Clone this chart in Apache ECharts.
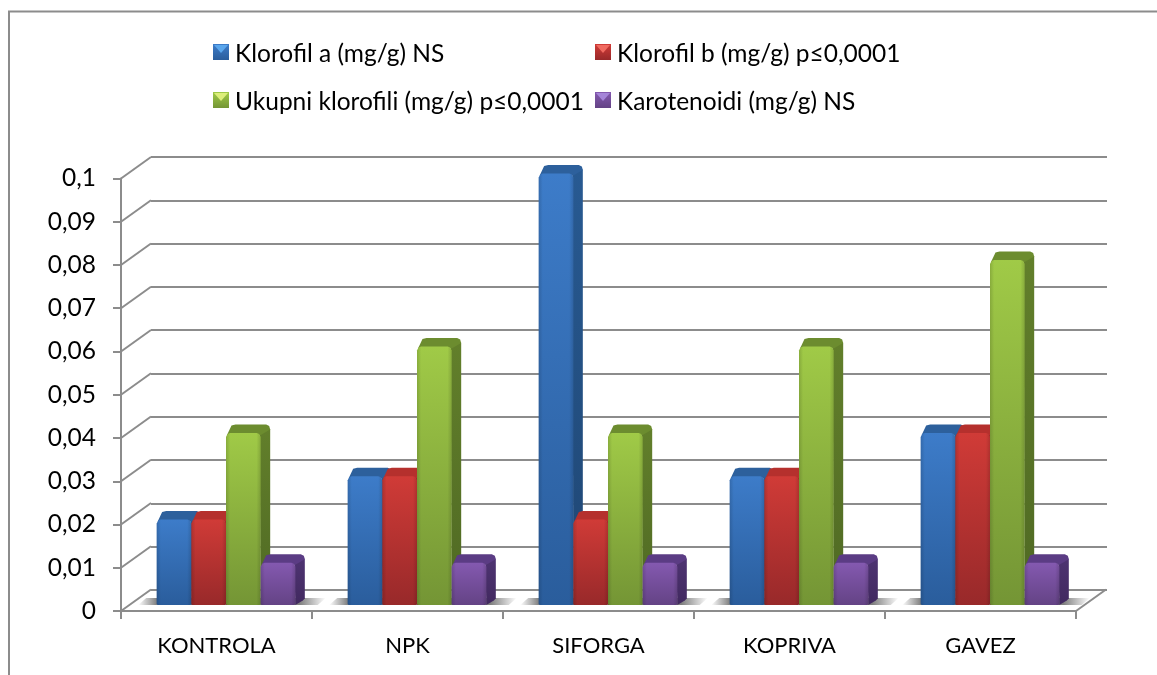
<!DOCTYPE html>
<html>
<head>
<meta charset="utf-8">
<style>html,body{margin:0;padding:0;background:#fff}#chartmain{width:1157px;height:675px}</style>
<script src="https://cdn.jsdelivr.net/npm/echarts@6/dist/echarts.min.js"></script>
</head>
<body>
<div id="chartmain"></div>
<script>
// podaci
var categories = ['KONTROLA', 'NPK', 'SIFORGA', 'KOPRIVA', 'GAVEZ'];
var seriesNames = ['Klorofil a (mg/g) NS', 'Klorofil b (mg/g) p≤0,0001', 'Ukupni klorofili (mg/g) p≤0,0001', 'Karotenoidi (mg/g) NS'];
var klorofilA = [0.02, 0.03, 0.1, 0.03, 0.04];
var klorofilB = [0.02, 0.03, 0.02, 0.03, 0.04];
var ukupni = [0.04, 0.06, 0.04, 0.06, 0.08];
var karotenoidi = [0.01, 0.01, 0.01, 0.01, 0.01];
var yTicks = [0, 0.01, 0.02, 0.03, 0.04, 0.05, 0.06, 0.07, 0.08, 0.09, 0.1];

var FONT = 'Lato';
var LINE = '#8c8c8c';
var WALL_DX = 30, WALL_DY = -21.5;   // stražnji zid
var BAR_DX = 9.5, BAR_DY = -5;       // prednja strana stupca od osi
var SIDE_DX = 9.5, SIDE_DY = -8.5;   // dubina stupca

var colors = [
    {hi: '#3d7cc9', lo: '#2a5d9c', top: '#2d609c', sideHi: '#285a92', sideLo: '#1f4673', iconHi: '#5aa6ec'},
    {hi: '#d03b37', lo: '#98292a', top: '#b5302d', sideHi: '#9a2a28', sideLo: '#7a201f', iconHi: '#f06a60'},
    {hi: '#a0ca47', lo: '#749535', top: '#6c8c2f', sideHi: '#627f2b', sideLo: '#4f6923', iconHi: '#dcee7a'},
    {hi: '#8459b0', lo: '#644385', top: '#5b3c84', sideHi: '#4e3472', sideLo: '#41295f', iconHi: '#a585d8'}
];

function vGrad(a, b) {
    return new echarts.graphic.LinearGradient(0, 0, 0, 1, [{offset: 0, color: a}, {offset: 1, color: b}]);
}

var edgeShade = new echarts.graphic.LinearGradient(0, 0, 1, 0, [
    {offset: 0, color: 'rgba(0,0,0,0.14)'}, {offset: 0.12, color: 'rgba(0,0,0,0)'},
    {offset: 0.88, color: 'rgba(0,0,0,0)'}, {offset: 1, color: 'rgba(0,0,0,0.14)'}
]);

function barRenderer(i) {
    var c = colors[i];
    return function (params, api) {
        var cat = api.value(0);
        var top = api.coord([cat, api.value(1)]);
        var base = api.coord([cat, 0]);
        var w = api.size([1, 0])[0] * 0.1815;
        var x0 = top[0] - 2 * w + i * w + BAR_DX;
        var x1 = x0 + w;
        var yT = top[1] + BAR_DY, yB = base[1] + BAR_DY - 1;
        var r = 4;
        var front = [
            [x0, yT + r], [x0 + 1.5, yT + 1], [x0 + r, yT], [x1 - r, yT], [x1 - 1.5, yT + 1], [x1, yT + r],
            [x1, yB - 1], [x1 - 1, yB], [x0 + 1, yB], [x0, yB - 1]
        ];
        return {
            type: 'group',
            children: [
                {type: 'polygon', shape: {points: [
                    [x1 - 1, yT + 1], [x1 + SIDE_DX - 2, yT + SIDE_DY + 3], [x1 + SIDE_DX, yT + SIDE_DY + 5],
                    [x1 + SIDE_DX, yB + SIDE_DY + 2], [x1 + SIDE_DX - 2, yB + SIDE_DY + 4], [x1, yB]
                ]}, style: {fill: vGrad(c.sideHi, c.sideLo)}},
                {type: 'polygon', shape: {points: [
                    [x0 + 1, yT + 2], [x0 + SIDE_DX - 4, yT + SIDE_DY + 1], [x0 + SIDE_DX, yT + SIDE_DY],
                    [x1 + SIDE_DX - 4, yT + SIDE_DY], [x1 + SIDE_DX - 1, yT + SIDE_DY + 1.5],
                    [x1 + SIDE_DX, yT + SIDE_DY + 5], [x1, yT + 2]
                ]}, style: {fill: c.top}},
                {type: 'polygon', shape: {points: front}, style: {fill: vGrad(c.hi, c.lo)}},
                {type: 'polygon', shape: {points: front}, style: {fill: edgeShade}}
            ]
        };
    };
}

function renderSlant(params, api) {
    var y = api.coord([0, api.value(1)])[1];
    var x = params.coordSys.x;
    return {type: 'line', shape: {x1: x, y1: y, x2: x + WALL_DX, y2: y + WALL_DY},
        style: {stroke: LINE, lineWidth: 2}};
}

function renderFloorEdge(params, api) {
    var y = api.coord([0, 0])[1];
    var x = params.coordSys.x + params.coordSys.width;
    return {type: 'line', shape: {x1: x, y1: y, x2: x + WALL_DX, y2: y + WALL_DY},
        style: {stroke: LINE, lineWidth: 2}};
}

function renderShadow(params, api) {
    var cat = api.value(0);
    var p = api.coord([cat, 0]);
    var w = api.size([1, 0])[0];
    var x0 = p[0] - w * 0.41, x1 = p[0] + w * 0.53;
    return {type: 'polygon', shape: {points: [[x0 + 8, p[1] - 13], [x1 + 8, p[1] - 13], [x1, p[1] - 6], [x0, p[1] - 6]]},
        style: {fill: new echarts.graphic.LinearGradient(0, 0, 1, 0, [
            {offset: 0, color: 'rgba(120,120,120,0)'}, {offset: 0.1, color: 'rgba(120,120,120,0.95)'},
            {offset: 0.86, color: 'rgba(120,120,120,0.95)'}, {offset: 1, color: 'rgba(120,120,120,0)'}
        ])}};
}

function pairs(values) {
    return values.map(function (v, k) { return [k, v]; });
}

var legendPos = [[213, 44], [595, 44], [213, 92], [595, 92]];

var option = {
    animation: false,
    backgroundColor: '#fff',
    textStyle: {fontFamily: FONT},
    legend: seriesNames.map(function (name, i) {
        return {
            data: [name], left: legendPos[i][0], top: legendPos[i][1] - 2.5,
            itemWidth: 16, itemHeight: 16, icon: 'rect', padding: 0,
            itemStyle: {color: vGrad(colors[i].hi, colors[i].lo)},
            formatter: '{t|{name}}',
            textStyle: {fontFamily: FONT, fontSize: 24.5, color: '#000',
                rich: {t: {fontFamily: FONT, fontSize: 24.5, color: '#000', padding: [4, 0, 0, 1]}}},
            selectedMode: false
        };
    }),
    grid: [
        {left: 121, right: 81, top: 178.5, bottom: 64, containLabel: false},
        {left: 151, right: 50, top: 157, bottom: 85, containLabel: false}
    ],
    xAxis: [
        {type: 'category', data: categories, gridIndex: 0,
            axisLine: {show: true, lineStyle: {color: LINE, width: 2}},
            axisTick: {show: true, length: 8, alignWithLabel: false, lineStyle: {color: LINE, width: 2}},
            axisLabel: {color: '#000', fontSize: 22, fontFamily: FONT, margin: 24, interval: 0},
            splitLine: {show: false}},
        {type: 'category', data: categories, gridIndex: 1, show: false}
    ],
    yAxis: [
        {type: 'value', gridIndex: 0, min: 0, max: 0.1, interval: 0.01,
            axisLine: {show: true, lineStyle: {color: LINE, width: 2}},
            axisTick: {show: true, length: 8, lineStyle: {color: LINE, width: 2}},
            axisLabel: {color: '#000', fontSize: 24.5, fontFamily: FONT, margin: 25,
                formatter: function (v) { return String(v).replace('.', ','); }},
            splitLine: {show: false}},
        {type: 'value', gridIndex: 1, min: 0, max: 0.1, interval: 0.01,
            axisLine: {show: false}, axisTick: {show: false}, axisLabel: {show: false},
            splitLine: {show: true, lineStyle: {color: LINE, width: 2}}}
    ],
    series: [
        {type: 'custom', silent: true, xAxisIndex: 0, yAxisIndex: 0, z: 1, renderItem: renderSlant,
            data: yTicks.map(function (v) { return [0, v]; })},
        {type: 'custom', silent: true, xAxisIndex: 0, yAxisIndex: 0, z: 1, renderItem: renderFloorEdge,
            data: [[0, 0]]},
        {type: 'custom', silent: true, xAxisIndex: 0, yAxisIndex: 0, z: 2, renderItem: renderShadow,
            data: pairs(karotenoidi)}
    ].concat([klorofilA, klorofilB, ukupni, karotenoidi].map(function (vals, i) {
        return {name: seriesNames[i], type: 'custom', silent: true, xAxisIndex: 0, yAxisIndex: 0, z: 3 + i,
            itemStyle: {color: colors[i].hi}, renderItem: barRenderer(i), data: pairs(vals)};
    })),
    graphic: [
        {type: 'polyline', silent: true, shape: {points: [[9, 675], [9, 11.5], [1157, 11.5]]},
            style: {stroke: LINE, lineWidth: 2, fill: null}}
    ].concat(legendPos.map(function (p, i) {
        return {type: 'polygon', silent: true, z: 10, shape: {points: [
            [p[0] + 1, p[1] + 1], [p[0] + 15, p[1] + 1], [p[0] + 8, p[1] + 9]
        ]}, style: {fill: colors[i].iconHi}};
    }))
};

var myChart = echarts.init(document.getElementById('chartmain'));
myChart.setOption(option);
</script>
</body>
</html>
